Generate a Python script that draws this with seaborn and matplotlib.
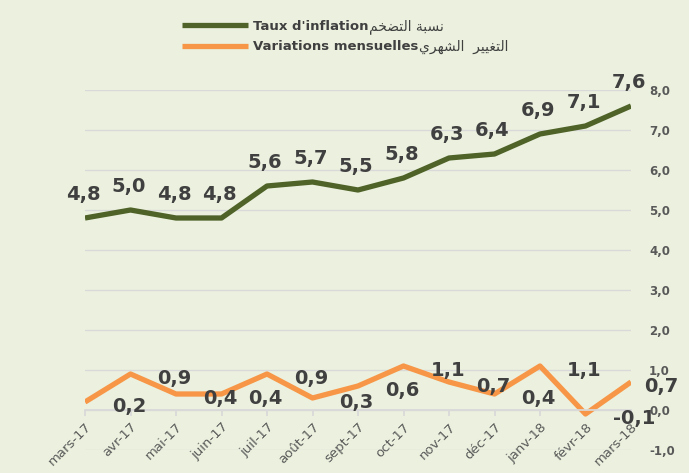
import numpy as np
import pandas as pd
import matplotlib.pyplot as plt
import seaborn as sns

# values
months = ["mars-17", "avr-17", "mai-17", "juin-17", "juil-17", "août-17", "sept-17",
          "oct-17", "nov-17", "déc-17", "janv-18", "févr-18", "mars-18"]
inflation = [4.8, 5.0, 4.8, 4.8, 5.6, 5.7, 5.5, 5.8, 6.3, 6.4, 6.9, 7.1, 7.6]
monthly = [0.2, 0.9, 0.4, 0.4, 0.9, 0.3, 0.6, 1.1, 0.7, 0.4, 1.1, -0.1, 0.7]
y_ticks = [-1, 0, 1, 2, 3, 4, 5, 6, 7, 8]
legend_fr = ["Taux d'inflation", "Variations mensuelles"]
# Arabic given in presentation forms, visual order (matplotlib does no shaping)
legend_ar = ["\ufee2\ufea8\ufec0\ufe98\ufedf\ufe8d \ufe94\ufe92\ufeb4\ufee7",
             "\ufef1\ufeae\ufeec\ufeb8\ufedf\ufe8d  \ufeae\ufef4\ufef4\ufed0\ufe98\ufedf\ufe8d"]

bg = "#EBF1DE"
green = "#4F6228"
orange = "#F79646"
txt = "#404040"
axis_txt = "#595959"
grid_c = "#D9D9D9"

sns.set_theme(style="white")
plt.rcParams["font.family"] = ["DejaVu Sans"]

df = pd.DataFrame({"idx": np.arange(len(months)), "month": months,
                   "inflation": inflation, "monthly": monthly})

W, H = 689, 473
fig = plt.figure(figsize=(W / 100, H / 100), dpi=100, facecolor=bg)
ax = fig.add_axes([85 / W, 1 - 450 / H, (631 - 85) / W, 360 / H])
ax.set_facecolor(bg)

sns.lineplot(data=df, x="idx", y="inflation", color=green, lw=3.8, ax=ax,
             label=legend_fr[0], solid_capstyle="butt", solid_joinstyle="round")
sns.lineplot(data=df, x="idx", y="monthly", color=orange, lw=3.8, ax=ax,
             label=legend_fr[1], solid_capstyle="butt", solid_joinstyle="round")

ax.set_xlim(0, len(months) - 1)
ax.set_ylim(-1, 8)
ax.set_xlabel("")
ax.set_ylabel("")

# grid + axes
ax.set_yticks(y_ticks)
ax.set_yticklabels([f"{v:.1f}".replace(".", ",") for v in y_ticks],
                   fontsize=8.5, fontweight="bold", color=axis_txt)
ax.yaxis.tick_right()
ax.tick_params(axis="y", length=0, pad=13)
ax.yaxis.grid(True, color=grid_c, lw=1)
ax.set_axisbelow(True)
for s in ["top", "left", "right"]:
    ax.spines[s].set_visible(False)
ax.spines["bottom"].set_position(("data", 0))
ax.spines["bottom"].set_color(grid_c)

ax.set_xticks(df["idx"])
ax.set_xticklabels(months, rotation=45, ha="right", rotation_mode="anchor",
                   fontsize=9.5, color=axis_txt)
ax.tick_params(axis="x", length=4, color=grid_c, pad=3.5, bottom=True)

# data labels
for i, v in enumerate(inflation):
    ax.annotate(f"{v:.1f}".replace(".", ","), (i, v), xytext=(-2, 24),
                textcoords="offset pixels", ha="center", va="center",
                fontsize=14, fontweight="bold", color=txt, annotation_clip=False)
for i, v in enumerate(monthly):
    dx = 27 if i < len(monthly) - 1 else 13
    ax.annotate(f"{v:.1f}".replace(".", ","), (i, v), xytext=(dx, -4),
                textcoords="offset pixels", ha="left", va="center",
                fontsize=14, fontweight="bold", color=txt, annotation_clip=False)

# legend at the top, arabic part appended after each label
leg = ax.legend(loc="upper left", bbox_to_anchor=(182 / W, 1 - 20 / H),
                bbox_transform=fig.transFigure, frameon=False, handlelength=5.0,
                handletextpad=0.35, labelspacing=0.55, borderpad=0, borderaxespad=0,
                prop={"weight": "bold", "size": 9.5}, labelcolor=txt)
for line in leg.get_lines():
    line.set_linewidth(3.8)

fig.canvas.draw()
inv = fig.transFigure.inverted()
for t, ar in zip(leg.get_texts(), legend_ar):
    bb = t.get_window_extent()
    x0, y0 = inv.transform((bb.x1 + 1, (bb.y0 + bb.y1) / 2))
    fig.text(x0, y0, ar, ha="left", va="center", fontsize=10, color=txt)

fig.savefig("out.png", dpi=100, facecolor=bg)
